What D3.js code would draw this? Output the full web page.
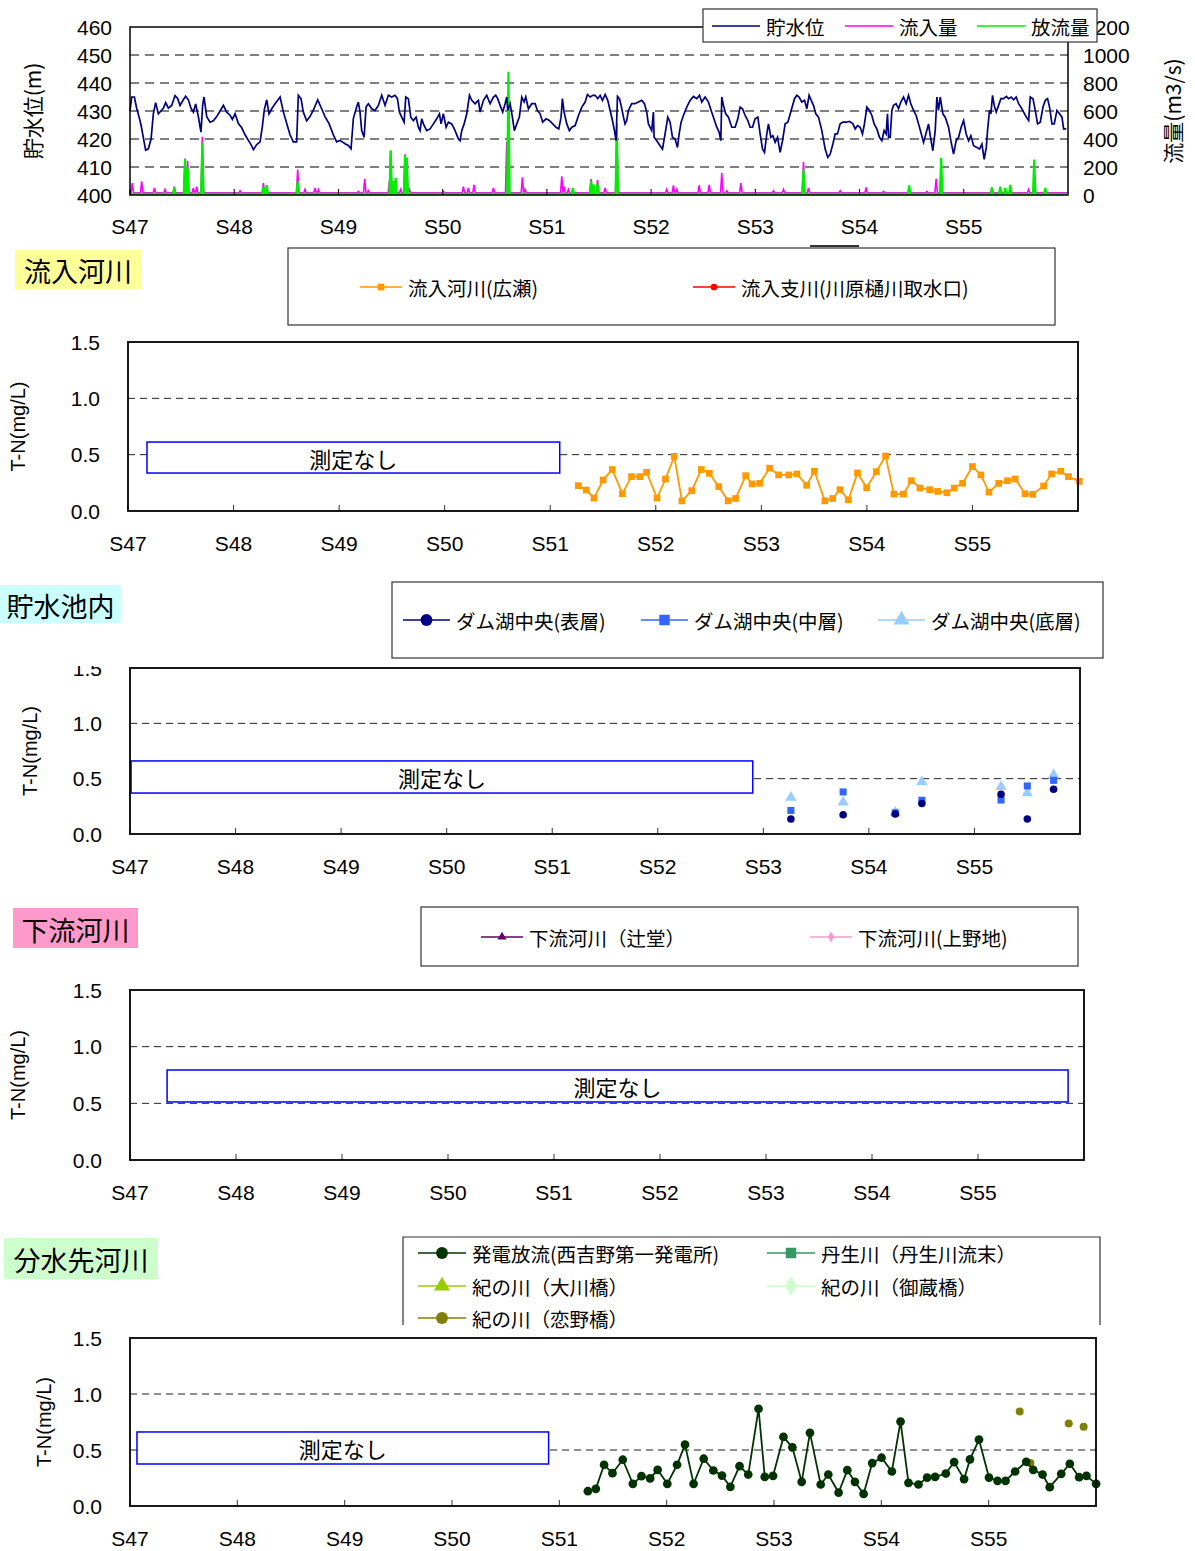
<!DOCTYPE html>
<html>
<head>
<meta charset="utf-8">
<script src="https://cdn.jsdelivr.net/npm/d3@7"></script>
<style>
  body { margin: 0; background: #fff; }
  svg text { font-family: "Liberation Sans", Arial, "Noto Sans CJK JP", sans-serif; }
</style>
</head>
<body>
<div id="chart"></div>
<script>
// ---------------- data ----------------
const yearTicks = [47, 48, 49, 50, 51, 52, 53, 54, 55];
const yearLabels = ["S47", "S48", "S49", "S50", "S51", "S52", "S53", "S54", "S55"];
const levelTicks = [400, 410, 420, 430, 440, 450, 460];
const flowTicks = [0, 200, 400, 600, 800, 1000, 1200];
const tnTicks = [0, 0.5, 1.0, 1.5];
const tnTickLabels = ["0.0", "0.5", "1.0", "1.5"];

// reservoir water level [year, m]
const waterLevel = [
  [47.00,430],[47.016,435],[47.042,435],[47.064,431],[47.086,428],[47.106,425],[47.128,420.5],[47.150,416],[47.176,416.5],[47.202,420],
  [47.224,429],[47.246,433],[47.272,429],[47.297,430],[47.320,431],[47.342,433],[47.368,431],[47.400,432],[47.432,435.5],[47.457,434.5],
  [47.480,432],[47.512,434],[47.534,435.3],[47.560,434],[47.585,431],[47.608,429.6],[47.630,432.5],[47.656,428],[47.681,422.5],[47.697,432],
  [47.710,435],[47.736,428],[47.768,426],[47.800,426.5],[47.832,428],[47.864,430],[47.896,432],[47.928,429.6],[47.960,428.5],[47.982,427],
  [48.008,429],[48.040,425.5],[48.072,424],[48.104,421.5],[48.136,419.5],[48.161,418],[48.184,416.2],[48.216,418],[48.248,419],[48.270,424.5],
  [48.289,430.5],[48.312,434],[48.334,429],[48.360,430.8],[48.392,432.6],[48.440,435],[48.472,429.6],[48.504,425.5],[48.535,421.5],[48.567,419],
  [48.599,419],[48.615,435.6],[48.641,434.4],[48.663,429.6],[48.695,426.5],[48.727,428],[48.760,430.4],[48.801,434],[48.839,430.8],[48.871,428],
  [48.910,425.5],[48.951,421.5],[48.983,419],[49.015,419.5],[49.063,418.3],[49.095,417.7],[49.121,416.5],[49.143,427.3],[49.175,431.5],[49.191,433.2],
  [49.207,429.6],[49.223,423],[49.246,420.6],[49.265,431.4],[49.287,432.6],[49.319,430.8],[49.351,430.2],[49.383,432],[49.415,435.6],[49.447,432],
  [49.479,435.6],[49.511,435],[49.543,435.6],[49.566,434.4],[49.585,429.6],[49.607,427.8],[49.630,426],[49.646,435],[49.671,434.4],[49.694,427.8],
  [49.719,426.6],[49.745,427.8],[49.767,424.2],[49.783,423],[49.799,427.2],[49.815,425.4],[49.847,423],[49.879,423.6],[49.911,425.4],[49.943,427.2],
  [49.969,429],[49.985,425.4],[50.007,429],[50.033,424.2],[50.055,426],[50.087,425.4],[50.119,423],[50.151,420],[50.167,419.4],[50.183,423],
  [50.206,425.4],[50.231,429],[50.257,435.6],[50.279,433.8],[50.311,432.6],[50.343,433.8],[50.359,429.6],[50.391,433.8],[50.423,435.6],[50.455,432.6],
  [50.487,435],[50.509,435.6],[50.528,434.4],[50.551,432],[50.576,429.6],[50.599,432.6],[50.615,435],[50.624,430.2],[50.647,432.6],[50.669,427.8],
  [50.688,423],[50.711,425.4],[50.736,427.8],[50.759,435],[50.781,433.2],[50.797,435],[50.823,430.8],[50.855,432.6],[50.887,432.6],[50.909,430.2],
  [50.935,429],[50.960,426],[50.992,427.2],[51.024,426.6],[51.056,425.4],[51.088,424.2],[51.114,423.6],[51.136,427.8],[51.149,434.4],[51.165,429.6],
  [51.191,425.4],[51.216,423],[51.239,424.2],[51.271,424.8],[51.303,428.4],[51.335,431.4],[51.367,433.2],[51.389,435.9],[51.415,435],[51.441,435.6],
  [51.463,435.6],[51.488,434.4],[51.511,435.6],[51.533,433.8],[51.559,435.9],[51.584,433.8],[51.607,430.2],[51.629,426.6],[51.648,423],[51.664,419.4],
  [51.677,435.2],[51.696,434.4],[51.712,432],[51.735,427.8],[51.750,425.4],[51.766,426.6],[51.782,430.2],[51.814,432.6],[51.846,432.6],[51.878,433.2],
  [51.910,433.8],[51.936,432.6],[51.958,429.6],[51.974,425.4],[51.990,424.2],[52.006,423],[52.022,429.6],[52.029,420.6],[52.054,419.4],[52.086,417.6],
  [52.109,416.4],[52.134,421.8],[52.160,427.8],[52.182,426],[52.205,420.6],[52.230,420],[52.253,417],[52.269,421.8],[52.288,426],[52.310,428.4],
  [52.342,431.4],[52.374,433.8],[52.406,435.2],[52.438,434.4],[52.464,435.6],[52.486,433.2],[52.518,435],[52.550,433.2],[52.576,430.2],[52.598,427.8],
  [52.630,424.2],[52.653,422.4],[52.669,419.4],[52.678,435],[52.694,432],[52.716,429],[52.742,427.8],[52.774,424.2],[52.806,424.2],[52.832,427.2],
  [52.854,431.4],[52.877,430.8],[52.902,428.4],[52.928,426.6],[52.950,424.2],[52.973,424.2],[52.998,427.2],[53.024,427.8],[53.046,421.8],[53.069,416.4],
  [53.088,415.2],[53.110,421.8],[53.126,425.4],[53.149,420.6],[53.168,421.2],[53.190,418.8],[53.213,420.6],[53.238,415.2],[53.261,419.4],[53.286,425.4],
  [53.312,426],[53.344,430.2],[53.376,434.4],[53.398,435.6],[53.420,435],[53.446,433.2],[53.472,433.8],[53.494,430.8],[53.516,435.6],[53.536,433.8],
  [53.558,432],[53.580,429],[53.606,427.8],[53.638,423],[53.670,416.4],[53.695,413.4],[53.718,414.6],[53.744,418.2],[53.766,421.8],[53.788,421.8],
  [53.814,425.4],[53.840,426],[53.872,426],[53.904,426.3],[53.936,425.4],[53.958,423.6],[53.980,424.8],[54.006,424.2],[54.028,421.8],[54.047,425.4],
  [54.070,431.4],[54.095,430.2],[54.118,428.4],[54.140,425.4],[54.166,423.6],[54.191,420.6],[54.214,419.4],[54.236,423],[54.255,421.8],[54.268,429],
  [54.278,420.6],[54.294,420.6],[54.310,430.2],[54.326,432],[54.351,432.6],[54.374,430.8],[54.396,433.2],[54.422,435],[54.447,432.6],[54.470,435.6],
  [54.492,432.6],[54.518,430.2],[54.543,428.4],[54.566,425.4],[54.588,422.4],[54.614,418.8],[54.636,421.8],[54.662,425.4],[54.678,421.2],[54.703,415.8],
  [54.726,423],[54.742,435],[54.758,430.2],[54.774,435],[54.799,429],[54.822,427.8],[54.854,424.2],[54.876,419.4],[54.902,414.6],[54.927,419.4],
  [54.950,420.6],[54.975,424.2],[54.998,426.6],[55.023,421.8],[55.046,419.4],[55.068,421.2],[55.094,417.6],[55.126,417],[55.151,416.4],[55.174,418.2],
  [55.196,412.7],[55.216,417],[55.228,423],[55.247,430.2],[55.260,429],[55.276,435.6],[55.292,432],[55.311,429.6],[55.334,432],[55.356,434.4],
  [55.382,434.4],[55.408,435.2],[55.430,434.4],[55.455,435],[55.478,434],[55.503,435],[55.526,432.6],[55.548,431.4],[55.574,429.6],[55.600,427.8],
  [55.622,426.6],[55.638,435],[55.664,434.4],[55.686,430.2],[55.708,425.4],[55.734,426],[55.760,431.4],[55.782,433.8],[55.804,434.4],[55.823,431.4],
  [55.846,425.4],[55.868,425.4],[55.894,430.2],[55.919,429],[55.942,427.8],[55.958,423.6],[55.983,423.6]
];

// inflow / outflow peaks [year, m3/s]
const inflowBase = 15;
const inflowPeaks = [
  [47.022,85],[47.112,97],[47.234,50],[47.336,40],[47.425,60],[47.528,261],[47.553,242],[47.608,50],[47.640,60],[47.694,416],
  [48.056,30],[48.280,85],[48.609,181],[48.679,40],[48.775,50],[48.807,40],[49.191,25],[49.252,116],[49.287,30],[49.489,100],
  [49.501,315],[49.597,40],[49.639,290],[49.655,260],[49.681,40],[50.007,25],[50.199,60],[50.247,50],[50.301,73],[50.487,50],
  [50.615,380],[50.765,126],[50.791,40],[51.143,133],[51.165,60],[51.207,40],[51.424,114],[51.486,109],[51.559,50],[51.671,508],
  [52.150,40],[52.214,68],[52.246,40],[52.461,68],[52.557,73],[52.678,157],[52.726,30],[52.861,85],[53.174,30],[53.270,40],
  [53.462,237],[53.510,50],[53.814,30],[54.063,55],[54.230,25],[54.646,25],[54.735,116],[54.783,100],[55.270,55],[55.622,40],[55.676,40]
];
const outflowBase = 8;
const outflowPeaks = [
  [47.425,53],[47.528,254],[47.553,194],[47.694,375],[48.280,60],[48.312,70],[48.609,97],[49.501,320],[49.527,100],[49.549,121],
  [49.639,286],[49.655,266],[50.631,880],[51.249,50],[51.424,100],[51.447,75],[51.486,85],[51.671,472],[53.462,181],[54.476,68],
  [54.783,266],[55.270,50],[55.350,60],[55.398,50],[55.446,73],[55.676,254],[55.782,50]
];

// T-N (mg/L)
const hirose = [
  [51.266,0.225],[51.342,0.186],[51.415,0.114],[51.501,0.275],[51.588,0.368],[51.684,0.153],[51.770,0.305],[51.850,0.305],[51.913,0.344],[52.012,0.114],
  [52.092,0.284],[52.175,0.485],[52.248,0.090],[52.341,0.180],[52.431,0.368],[52.507,0.335],[52.597,0.216],[52.686,0.090],[52.756,0.111],[52.852,0.314],
  [52.912,0.240],[52.985,0.246],[53.078,0.380],[53.164,0.320],[53.260,0.320],[53.337,0.329],[53.430,0.228],[53.503,0.353],[53.602,0.090],[53.676,0.111],
  [53.745,0.189],[53.825,0.099],[53.911,0.338],[53.998,0.207],[54.090,0.350],[54.177,0.488],[54.256,0.150],[54.346,0.150],[54.422,0.269],[54.502,0.204],
  [54.595,0.189],[54.671,0.174],[54.758,0.162],[54.827,0.204],[54.907,0.246],[55.000,0.395],[55.080,0.320],[55.156,0.168],[55.249,0.246],[55.332,0.269],
  [55.405,0.284],[55.498,0.153],[55.571,0.147],[55.674,0.222],[55.750,0.329],[55.837,0.353],[55.910,0.305],[56.012,0.263]
];
const kawaharabi = [];

const damYears = [53.261, 53.756, 54.250, 54.502, 55.252, 55.501, 55.750];
const damSurface = [0.135, 0.174, 0.180, 0.275, 0.359, 0.135, 0.404];
const damMiddle  = [0.213, 0.380, 0.192, 0.305, 0.307, 0.434, 0.485];
const damBottom  = [0.329, 0.287, 0.195, 0.473, 0.428, 0.371, 0.533];

const tsujido = [];
const uenoji = [];

const hatsuden = [
  [51.266,0.132],[51.340,0.153],[51.417,0.368],[51.495,0.293],[51.591,0.413],[51.685,0.198],[51.765,0.266],[51.846,0.246],[51.916,0.323],[52.006,0.198],
  [52.097,0.368],[52.171,0.548],[52.251,0.198],[52.345,0.422],[52.435,0.317],[52.515,0.272],[52.593,0.171],[52.679,0.356],[52.760,0.281],[52.856,0.868],
  [52.914,0.260],[52.991,0.269],[53.088,0.617],[53.171,0.524],[53.258,0.216],[53.335,0.653],[53.435,0.192],[53.506,0.281],[53.602,0.120],[53.683,0.320],
  [53.754,0.216],[53.835,0.108],[53.915,0.383],[54.002,0.431],[54.098,0.308],[54.179,0.754],[54.253,0.207],[54.346,0.192],[54.427,0.254],[54.501,0.260],
  [54.601,0.290],[54.678,0.392],[54.771,0.240],[54.826,0.416],[54.910,0.593],[55.003,0.254],[55.083,0.225],[55.157,0.225],[55.247,0.308],[55.350,0.395],
  [55.415,0.323],[55.502,0.281],[55.569,0.168],[55.676,0.287],[55.756,0.377],[55.843,0.257],[55.911,0.269],[56.001,0.198]
];
const nyugawa = [];
const okawabashi = [];
const mikurabashi = [];
const koinobashi = [[55.289,0.844],[55.389,0.383],[55.746,0.737],[55.885,0.707]];

// ---------------- drawing ----------------
const svg = d3.select("#chart").append("svg")
  .attr("width", 1195)
  .attr("height", 1551);

svg.append("rect").attr("width", 1195).attr("height", 1551).attr("fill", "#fff");

const JP = "'Noto Sans CJK JP', sans-serif";

// ===== top chart: water level and flows =====
const tp = { left: 130, right: 1068, top: 27, bottom: 195 };
const xTop = d3.scaleLinear().domain([47, 56]).range([tp.left, tp.right]);
const yLevel = d3.scaleLinear().domain([400, 460]).range([tp.bottom, tp.top]);
const yFlow = d3.scaleLinear().domain([0, 1200]).range([tp.bottom, tp.top]);

const topG = svg.append("g");

topG.selectAll(".grid").data(levelTicks.slice(1, -1)).join("line")
  .attr("x1", tp.left).attr("x2", tp.right)
  .attr("y1", d => yLevel(d)).attr("y2", d => yLevel(d))
  .attr("stroke", "#000").attr("stroke-width", 1).attr("stroke-dasharray", "9,6");

// flows as narrow peaks
function peakPoints(peaks, base) {
  const pts = [[47, base]];
  peaks.forEach(([t, v]) => { pts.push([t - 0.012, base], [t, v], [t + 0.012, base]); });
  pts.push([56, base]);
  return pts;
}
const flowLine = d3.line().x(d => xTop(d[0])).y(d => yFlow(d[1]));
topG.append("path").attr("d", flowLine(peakPoints(inflowPeaks, inflowBase)))
  .attr("fill", "none").attr("stroke", "#ff00ff").attr("stroke-width", 1.6);
topG.append("path").attr("d", flowLine(peakPoints(outflowPeaks, outflowBase)))
  .attr("fill", "none").attr("stroke", "#00ee00").attr("stroke-width", 2.2);

const levelLine = d3.line().x(d => xTop(d[0])).y(d => yLevel(d[1]));
topG.append("path").attr("d", levelLine(waterLevel))
  .attr("fill", "none").attr("stroke", "#000080").attr("stroke-width", 1.7);

// frame
topG.append("rect")
  .attr("x", tp.left).attr("y", tp.top)
  .attr("width", tp.right - tp.left).attr("height", tp.bottom - tp.top)
  .attr("fill", "none").attr("stroke", "#000").attr("stroke-width", 1.5);

// x ticks (inward) + labels
topG.selectAll(".xt").data(yearTicks).join("line")
  .attr("x1", d => xTop(d)).attr("x2", d => xTop(d))
  .attr("y1", tp.bottom).attr("y2", tp.bottom - 6)
  .attr("stroke", "#000");
topG.selectAll(".xl").data(yearTicks).join("text")
  .attr("x", d => xTop(d)).attr("y", tp.bottom + 31)
  .attr("text-anchor", "middle").attr("dominant-baseline", "central")
  .style("font-size", "21px")
  .text((d, i) => yearLabels[i]);

topG.selectAll(".yl").data(levelTicks).join("text")
  .attr("x", tp.left - 18).attr("y", d => yLevel(d))
  .attr("text-anchor", "end").attr("dominant-baseline", "central")
  .style("font-size", "21px").text(d => d);

topG.selectAll(".yr").data(flowTicks).join("text")
  .attr("x", tp.right + 15).attr("y", d => yFlow(d))
  .attr("text-anchor", "start").attr("dominant-baseline", "central")
  .style("font-size", "21px").text(d => d);

topG.append("text")
  .attr("transform", `translate(32,${(tp.top + tp.bottom) / 2}) rotate(-90)`)
  .attr("text-anchor", "middle").attr("dominant-baseline", "central")
  .style("font-family", JP).style("font-size", "21px")
  .text("貯水位(m)");
topG.append("text")
  .attr("transform", `translate(1172,${(tp.top + tp.bottom) / 2}) rotate(-90)`)
  .attr("text-anchor", "middle").attr("dominant-baseline", "central")
  .style("font-family", JP).style("font-size", "21px")
  .text("流量(m3/s)");

// legends
function drawLegend(box, items, openBottom) {
  const g = svg.append("g");
  g.append("rect").attr("x", box[0]).attr("y", box[1])
    .attr("width", box[2] - box[0]).attr("height", box[3] - box[1])
    .attr("fill", "#fff").attr("stroke", openBottom ? "none" : "#333").attr("stroke-width", 1.2);
  if (openBottom) {
    g.append("path")
      .attr("d", `M${box[0]},${box[3]}V${box[1]}H${box[2]}V${box[3]}`)
      .attr("fill", "none").attr("stroke", "#333").attr("stroke-width", 1.2);
  }
  items.forEach(it => {
    g.append("line").attr("x1", it.x).attr("x2", it.x + it.len)
      .attr("y1", it.y).attr("y2", it.y)
      .attr("stroke", it.color).attr("stroke-width", 1.6);
    if (it.symbol) {
      g.append("path")
        .attr("d", d3.symbol().type(it.symbol).size(it.size || 60)())
        .attr("transform", `translate(${it.x + it.len / 2},${it.y})`)
        .attr("fill", it.color);
    }
    g.append("text").attr("x", it.x + it.len + 6).attr("y", it.y)
      .attr("dominant-baseline", "central")
      .style("font-family", JP).style("font-size", "19.5px")
      .text(it.label);
  });
  return g;
}

drawLegend([703, 9, 1097, 42], [
  { x: 712, y: 26, len: 48, color: "#000080", label: "貯水位" },
  { x: 845, y: 26, len: 48, color: "#ff00ff", label: "流入量" },
  { x: 977, y: 26, len: 48, color: "#00ee00", label: "放流量" }
]);

// ===== section headers =====
function header(box, text, fill) {
  svg.append("rect").attr("x", box[0]).attr("y", box[1])
    .attr("width", box[2] - box[0]).attr("height", box[3] - box[1]).attr("fill", fill);
  svg.append("text").attr("x", (box[0] + box[2]) / 2).attr("y", (box[1] + box[3]) / 2 + 1)
    .attr("text-anchor", "middle").attr("dominant-baseline", "central")
    .style("font-family", JP).style("font-size", "27px").text(text);
}

// ===== T-N panels =====
function drawPanel(p) {
  const x = d3.scaleLinear().domain([47, 56]).range([p.x0, p.x1]);
  const y = d3.scaleLinear().domain([0, 1.5]).range([p.y1, p.y0]);
  const g = svg.append("g");

  g.selectAll(".grid").data([0.5, 1.0]).join("line")
    .attr("x1", p.x0).attr("x2", p.x1)
    .attr("y1", d => y(d)).attr("y2", d => y(d))
    .attr("stroke", "#222").attr("stroke-width", 1).attr("stroke-dasharray", "7,5");

  g.selectAll(".xt").data(yearTicks).join("line")
    .attr("x1", d => x(d)).attr("x2", d => x(d))
    .attr("y1", p.y1).attr("y2", p.y1 - 6).attr("stroke", "#333");
  g.selectAll(".xl").data(yearTicks).join("text")
    .attr("x", d => x(d)).attr("y", p.y1 + 32)
    .attr("text-anchor", "middle").attr("dominant-baseline", "central")
    .style("font-size", "21px").text((d, i) => yearLabels[i]);
  g.selectAll(".yl").data(tnTicks).join("text")
    .attr("x", p.x0 - 28).attr("y", d => y(d))
    .attr("text-anchor", "end").attr("dominant-baseline", "central")
    .style("font-size", "21px").text((d, i) => tnTickLabels[i]);

  g.append("text")
    .attr("transform", `translate(${p.titleX},${(p.y0 + p.y1) / 2}) rotate(-90)`)
    .attr("text-anchor", "middle").attr("dominant-baseline", "central")
    .style("font-size", "20px").text("T-N(mg/L)");

  // "no measurement" box
  const nb = p.none;
  g.append("rect")
    .attr("x", x(nb[0])).attr("y", y(nb[3]))
    .attr("width", x(nb[1]) - x(nb[0])).attr("height", y(nb[2]) - y(nb[3]))
    .attr("fill", "#fff").attr("stroke", "#0000ff").attr("stroke-width", 1.5);
  g.append("text")
    .attr("x", (x(nb[0]) + x(nb[1])) / 2).attr("y", (y(nb[2]) + y(nb[3])) / 2)
    .attr("text-anchor", "middle").attr("dominant-baseline", "central")
    .style("font-family", JP).style("font-size", "22px").text("測定なし");

  return { x, y, g };
}

function frame(p) {
  svg.append("rect").attr("x", p.x0).attr("y", p.y0)
    .attr("width", p.x1 - p.x0).attr("height", p.y1 - p.y0)
    .attr("fill", "none").attr("stroke", "#000").attr("stroke-width", 1.8);
}

function drawSeries(P, data, color, symbol, size, withLine) {
  if (withLine && data.length) {
    P.g.append("path")
      .attr("d", d3.line().x(d => P.x(d[0])).y(d => P.y(d[1]))(data))
      .attr("fill", "none").attr("stroke", color).attr("stroke-width", 1.8);
  }
  P.g.selectAll(null).data(data).join("path")
    .attr("d", d3.symbol().type(symbol).size(size)())
    .attr("transform", d => `translate(${P.x(d[0])},${P.y(d[1])})`)
    .attr("fill", color);
}

// --- 流入河川 ---
header([15, 250, 141, 289], "流入河川", "#ffff99");
svg.append("line").attr("x1", 810).attr("x2", 859).attr("y1", 246).attr("y2", 246)
  .attr("stroke", "#333").attr("stroke-width", 2);
drawLegend([288, 248, 1055, 325], [
  { x: 360, y: 287, len: 42, color: "#ff9900", symbol: d3.symbolSquare, size: 45, label: "流入河川(広瀬)" },
  { x: 693, y: 287, len: 42, color: "#ff0000", symbol: d3.symbolCircle, size: 35, label: "流入支川(川原樋川取水口)" }
]);
const p2 = { x0: 128, x1: 1078, y0: 342, y1: 511, titleX: 18, none: [47.18, 51.09, 0.337, 0.612] };
const P2 = drawPanel(p2);
drawSeries(P2, hirose, "#ff9900", d3.symbolSquare, 45, true);
drawSeries(P2, kawaharabi, "#ff0000", d3.symbolCircle, 35, true);
frame(p2);

// --- 貯水池内 ---
header([0, 585, 121, 623], "貯水池内", "#ccffff");
const p3 = { x0: 130, x1: 1080, y0: 668, y1: 834, titleX: 30, none: [47.01, 52.90, 0.37, 0.66] };
const P3 = drawPanel(p3);
drawSeries(P3, damYears.map((t, i) => [t, damBottom[i]]), "#99ccff", d3.symbolTriangle, 55, false);
drawSeries(P3, damYears.map((t, i) => [t, damMiddle[i]]), "#3366ff", d3.symbolSquare, 50, false);
drawSeries(P3, damYears.map((t, i) => [t, damSurface[i]]), "#000080", d3.symbolCircle, 45, false);
frame(p3);
// the top of the "1.5" label is hidden in the original
svg.append("rect").attr("x", 55).attr("y", 640).attr("width", 60).attr("height", 26).attr("fill", "#fff");
drawLegend([392, 582, 1103, 658], [
  { x: 403, y: 620, len: 47, color: "#000080", symbol: d3.symbolCircle, size: 110, label: "ダム湖中央(表層)" },
  { x: 641, y: 620, len: 47, color: "#3366ff", symbol: d3.symbolSquare, size: 110, label: "ダム湖中央(中層)" },
  { x: 878, y: 620, len: 47, color: "#99ccff", symbol: d3.symbolTriangle, size: 110, label: "ダム湖中央(底層)" }
]);

// --- 下流河川 ---
header([13, 908, 138, 948], "下流河川", "#ff99cc");
drawLegend([421, 907, 1078, 966], [
  { x: 481, y: 937, len: 42, color: "#660066", symbol: d3.symbolTriangle, size: 35, label: "下流河川（辻堂）" },
  { x: 810, y: 937, len: 42, color: "#ff99cc", symbol: d3.symbolDiamond, size: 35, label: "下流河川(上野地)" }
]);
const p4 = { x0: 130, x1: 1084, y0: 990, y1: 1160, titleX: 18, none: [47.35, 55.85, 0.512, 0.794] };
const P4 = drawPanel(p4);
drawSeries(P4, tsujido, "#660066", d3.symbolTriangle, 35, true);
drawSeries(P4, uenoji, "#ff99cc", d3.symbolDiamond, 35, true);
frame(p4);

// --- 分水先河川 ---
header([4, 1238, 158, 1279], "分水先河川", "#ccffcc");
drawLegend([403, 1237, 1100, 1325], [
  { x: 418, y: 1253, len: 48, color: "#003300", symbol: d3.symbolCircle, size: 110, label: "発電放流(西吉野第一発電所)" },
  { x: 767, y: 1253, len: 48, color: "#339966", symbol: d3.symbolSquare, size: 110, label: "丹生川（丹生川流末）" },
  { x: 418, y: 1286, len: 48, color: "#99cc00", symbol: d3.symbolTriangle, size: 110, label: "紀の川（大川橋）" },
  { x: 767, y: 1286, len: 48, color: "#ccffcc", symbol: d3.symbolDiamond, size: 110, label: "紀の川（御蔵橋）" },
  { x: 418, y: 1318, len: 48, color: "#808000", symbol: d3.symbolCircle, size: 110, label: "紀の川（恋野橋）" }
], true);
const p5 = { x0: 130, x1: 1096, y0: 1338, y1: 1506, titleX: 44, none: [47.065, 50.90, 0.375, 0.661] };
const P5 = drawPanel(p5);
drawSeries(P5, nyugawa, "#339966", d3.symbolSquare, 50, true);
drawSeries(P5, okawabashi, "#99cc00", d3.symbolTriangle, 50, true);
drawSeries(P5, mikurabashi, "#ccffcc", d3.symbolDiamond, 50, true);
drawSeries(P5, koinobashi, "#808000", d3.symbolCircle, 50, false);
drawSeries(P5, hatsuden, "#003300", d3.symbolCircle, 60, true);
frame(p5);
</script>
</body>
</html>
